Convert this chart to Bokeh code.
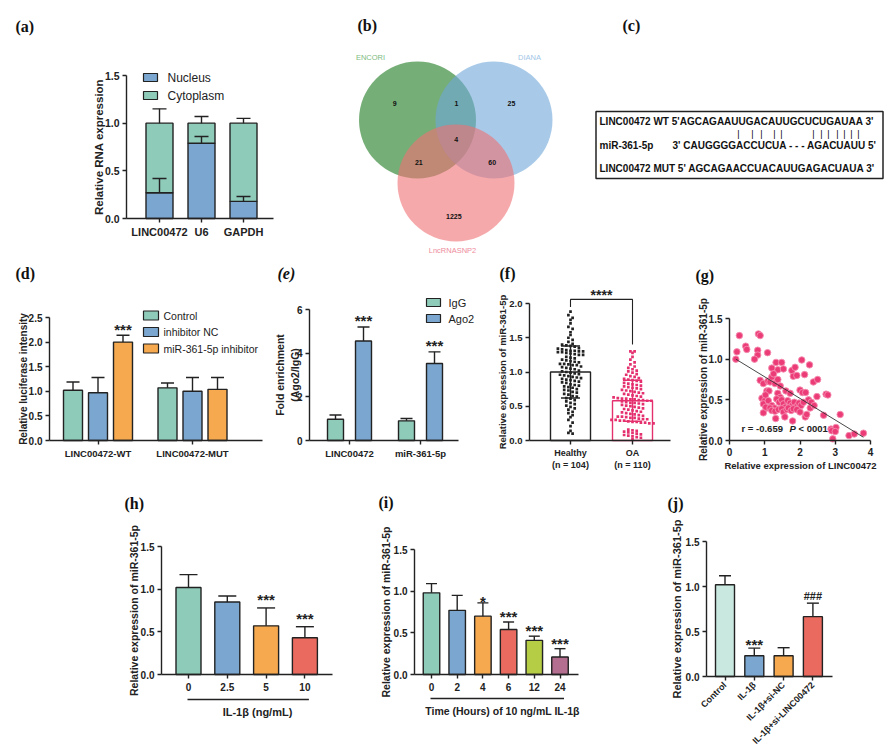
import numpy as np
from bokeh.plotting import figure
from bokeh.models import Range1d, FixedTicker, LinearAxis, NumeralTickFormatter
from bokeh.layouts import row, column
from bokeh.embed import file_html
from bokeh.resources import INLINE
from bokeh.core.properties import value

# ======================= DATA =======================
a_genes = ["LINC00472", "U6", "GAPDH"]
a_series = ["Nucleus", "Cytoplasm"]
a_nucleus = [0.27, 0.79, 0.18]
a_nucleus_err = [0.15, 0.07, 0.05]
a_cyto = [0.73, 0.21, 0.82]
a_cyto_err = [0.15, 0.07, 0.05]

venn_names = ["ENCORI", "DIANA", "LncRNASNP2"]
# ENCORI only, ENCORI&DIANA, DIANA only, all three, ENCORI&Lnc, DIANA&Lnc, Lnc only
venn_counts = ["9", "1", "25", "4", "21", "60", "1225"]

c_wt = "LINC00472 WT 5'AGCAGAAUUGACAUUGCUCUGAUAA 3'"
c_mir_name = "miR-361-5p"
c_mir = "3' CAUGGGGACCUCUA - - - AGACUAUU 5'"
c_mut = "LINC00472 MUT 5' AGCAGAACCUACAUUGAGACUAUA 3'"

d_groups = ["LINC00472-WT", "LINC00472-MUT"]
d_series = ["Control", "inhibitor NC", "miR-361-5p inhibitor"]
d_control = [1.02, 1.07]
d_control_err = [0.17, 0.10]
d_nc = [0.97, 1.00]
d_nc_err = [0.31, 0.28]
d_inh = [2.00, 1.04]
d_inh_err = [0.14, 0.24]
d_inh_sig = ["***", ""]

e_groups = ["LINC00472", "miR-361-5p"]
e_series = ["IgG", "Ago2"]
e_igg = [0.97, 0.90]
e_igg_err = [0.20, 0.11]
e_ago2 = [4.56, 3.53]
e_ago2_err = [0.64, 0.53]
e_ago2_sig = ["***", "***"]

f_groups = ["Healthy\n(n = 104)", "OA\n(n = 110)"]
f_mean = [1.00, 0.58]
f_sd = [0.38, 0.30]
f_healthy = [
    1.88, 1.83, 1.79, 1.76, 1.71, 1.66, 1.63, 1.58, 1.54, 1.50, 1.47, 1.44,
    1.41, 1.40, 1.39, 1.38, 1.37, 1.35, 1.34, 1.33, 1.32, 1.31, 1.31, 1.30,
    1.30, 1.29, 1.29, 1.28, 1.27, 1.26, 1.25, 1.25,
    1.22, 1.21, 1.20, 1.18, 1.17, 1.16, 1.15, 1.14, 1.12, 1.12, 1.11, 1.10,
    1.10, 1.08, 1.07, 1.06, 1.05, 1.04, 1.02, 1.01, 1.00, 0.99, 0.98, 0.97,
    0.96, 0.95, 0.94, 0.93, 0.92, 0.91, 0.90,
    0.89, 0.88, 0.87, 0.86, 0.85, 0.84, 0.82, 0.81, 0.80, 0.79, 0.78, 0.77,
    0.75, 0.74, 0.73, 0.71, 0.70, 0.68, 0.67, 0.65, 0.64, 0.62, 0.61,
    0.59, 0.57, 0.55, 0.53, 0.51, 0.49, 0.47, 0.45, 0.42, 0.40, 0.37, 0.34,
    0.30, 0.26, 0.21, 0.14, 0.11, 0.10]
f_oa = [
    1.30, 1.30, 1.28, 1.22, 1.18, 1.14, 1.11,
    1.08, 1.06, 1.04, 1.02, 1.01, 0.99,
    0.97, 0.96, 0.94, 0.93, 0.91, 0.90, 0.89, 0.88, 0.87, 0.86,
    0.84, 0.83, 0.82, 0.81, 0.80, 0.79, 0.78, 0.77, 0.76, 0.75, 0.74, 0.73,
    0.72, 0.71, 0.70, 0.69, 0.68, 0.67, 0.66, 0.65, 0.64, 0.63, 0.62, 0.61,
    0.61, 0.60, 0.60,
    0.59, 0.59, 0.58, 0.58, 0.57, 0.56, 0.55, 0.55, 0.54, 0.53, 0.52, 0.51,
    0.50, 0.49, 0.48, 0.47, 0.46, 0.45, 0.44, 0.43, 0.42, 0.41, 0.40, 0.39,
    0.38, 0.37, 0.36, 0.35, 0.35, 0.34, 0.33, 0.33, 0.32, 0.31, 0.31, 0.30,
    0.30, 0.29, 0.29, 0.28,
    0.27, 0.27, 0.26, 0.26, 0.25, 0.25,
    0.16, 0.15, 0.14, 0.13, 0.12, 0.11, 0.10, 0.09, 0.08, 0.07, 0.06, 0.05,
    0.04, 0.02]
f_sig = "****"

g_x = [0.28, 0.82, 0.87, 0.21, 0.46, 0.49, 0.18, 0.80, 0.80, 0.71, 1.08, 1.32,
       1.48, 1.37, 1.53, 1.20, 1.77, 1.86, 2.05, 1.81, 1.91, 2.27, 2.13, 0.87,
       0.96, 1.09, 1.15, 1.20, 1.29, 1.37, 2.38, 2.50, 1.06, 1.12, 0.92, 1.00,
       1.37, 1.44, 1.60, 1.72, 2.00, 2.07, 2.16, 2.24, 2.32, 2.48, 2.74, 2.79,
       0.96, 1.06, 1.10, 1.20, 1.27, 1.34, 1.41, 1.48, 1.53, 1.58, 1.65, 1.72,
       1.77, 1.84, 1.91, 1.97, 2.03, 0.96, 1.03, 1.15, 1.20, 1.29, 1.39, 1.48,
       1.53, 1.63, 1.67, 1.75, 1.81, 1.91, 2.00, 2.15, 2.19, 2.29, 1.31, 1.79,
       2.67, 3.14, 2.88, 2.98, 3.02, 2.90, 3.00, 2.93, 3.39, 3.54, 3.80, 1.25,
       1.44, 1.02, 2.10, 1.57, 2.40]
g_y = [1.29, 1.31, 1.29, 1.09, 1.16, 1.12, 1.00, 1.11, 1.05, 1.00, 1.08, 0.96,
       0.96, 0.87, 0.88, 0.89, 0.86, 0.90, 0.99, 0.79, 0.80, 0.93, 0.81, 0.74,
       0.70, 0.73, 0.72, 0.78, 0.70, 0.75, 0.72, 0.75, 0.61, 0.61, 0.52, 0.49,
       0.58, 0.53, 0.61, 0.58, 0.62, 0.59, 0.59, 0.50, 0.47, 0.54, 0.57, 0.56,
       0.45, 0.40, 0.49, 0.43, 0.40, 0.51, 0.47, 0.50, 0.45, 0.41, 0.49, 0.46,
       0.43, 0.47, 0.42, 0.46, 0.43, 0.34, 0.41, 0.40, 0.37, 0.36, 0.38, 0.39,
       0.35, 0.38, 0.40, 0.37, 0.39, 0.38, 0.35, 0.29, 0.32, 0.40, 0.27, 0.24,
       0.31, 0.32, 0.14, 0.14, 0.16, 0.12, 0.11, 0.02, 0.06, 0.08, 0.09, 0.82,
       0.67, 0.56, 0.47, 0.29, 0.43]
g_fit_x = [0.18, 3.80]
g_fit_y = [1.00, 0.04]
g_stat = ["r = -0.659", "P", "< 0001"]

h_doses = ["0", "2.5", "5", "10"]
h_vals = [1.02, 0.85, 0.57, 0.43]
h_errs = [0.15, 0.07, 0.21, 0.13]
h_sig = ["", "", "***", "***"]

i_hours = ["0", "2", "4", "6", "12", "24"]
i_vals = [0.98, 0.77, 0.70, 0.54, 0.41, 0.21]
i_errs = [0.11, 0.18, 0.16, 0.09, 0.05, 0.10]
i_sig = ["", "", "*", "***", "***", "***"]

j_groups = ["Control", "IL-1β", "IL-1β+si-NC", "IL-1β+si-LINC00472"]
j_vals = [1.02, 0.23, 0.23, 0.665]
j_errs = [0.10, 0.085, 0.09, 0.15]
j_sig = ["", "***", "", "###"]

Y_LABEL = "Relative expression of miR-361-5p"

# ======================= STYLE =======================
FONT = "Liberation Sans"
SERIF = "Liberation Serif"
INK = "#222222"
TEAL = "#8ECBB9"
BLUE = "#7BA6CF"
ORANGE = "#F6A94E"
RED = "#EA6A5F"
LIME = "#B5CC45"
MAUVE = "#B46E8F"
MINT = "#C9E8DF"
PINK = "#E5306F"
LW = 1.4


class Panel:
    """A figure whose frame fills its whole cell; px -> data through its own ranges."""

    def __init__(self, cell, ax_x, ax_y, x_at_ax, ppx, ppy):
        cx0, cy0, cx1, cy1 = cell
        self.ax_x, self.ax_y, self.xa, self.ppx, self.ppy = ax_x, ax_y, x_at_ax, ppx, ppy
        self.p = figure(frame_width=int(cx1 - cx0), frame_height=int(cy1 - cy0),
                        min_border_left=0, min_border_right=0,
                        min_border_top=0, min_border_bottom=0,
                        x_range=Range1d(self.X(cx0), self.X(cx1)),
                        y_range=Range1d(self.Y(cy1), self.Y(cy0)),
                        x_axis_location=None, y_axis_location=None,
                        output_backend="svg", toolbar_location=None)
        p = self.p
        p.outline_line_color = None
        for g in p.grid:
            g.visible = False
        p.background_fill_color = "white"
        p.border_fill_color = "white"

    def X(self, px):
        return self.xa + (px - self.ax_x) / self.ppx

    def Y(self, py):
        return (self.ax_y - py) / self.ppy

    def dx(self, n):
        return n / self.ppx

    def dy(self, n):
        return n / self.ppy


def free_panel(cell):
    return Panel(cell, 0, 0, 0, 1, -1)


def style_axis(ax, fs):
    ax.axis_line_width = LW
    ax.axis_line_color = INK
    ax.major_tick_line_width = LW
    ax.major_tick_line_color = INK
    ax.major_tick_out = 4
    ax.major_tick_in = 0
    ax.minor_tick_line_color = None
    ax.major_label_text_font = FONT
    ax.major_label_text_font_style = "bold"
    ax.major_label_text_color = INK
    ax.major_label_text_font_size = fs
    ax.major_label_standoff = 3


def add_axes(P, xticks, xlabels, xend_px, yticks, ytop, yfmt, tick_fs="10px",
             xtick_fs="10px", xfmt=None, xorient=None, xstandoff=3):
    xa = LinearAxis(fixed_location=0, ticker=FixedTicker(ticks=list(xticks)),
                    bounds=(P.xa, P.X(xend_px)))
    style_axis(xa, xtick_fs)
    xa.major_label_standoff = xstandoff
    if xlabels is not None:
        xa.major_label_overrides = {t: l for t, l in zip(xticks, xlabels)}
    if xfmt:
        xa.formatter = NumeralTickFormatter(format=xfmt)
    if xorient is not None:
        xa.major_label_orientation = xorient
    ya = LinearAxis(fixed_location=P.xa, ticker=FixedTicker(ticks=list(yticks)),
                    bounds=(0, ytop), formatter=NumeralTickFormatter(format=yfmt))
    style_axis(ya, tick_fs)
    P.p.add_layout(xa, "below")
    P.p.add_layout(ya, "left")


def txt(P, px, py, s, fs, style="bold", align="center", baseline="middle", angle=0.0,
        font=FONT, color=INK):
    P.p.text(x=[P.X(px)], y=[P.Y(py)], text=[s], angle=angle, text_font=value(font),
             text_font_size=value(fs), text_font_style=style, text_color=color,
             text_align=align, text_baseline=baseline)


def ylab(P, px, py, s, fs):
    txt(P, px, py, s, fs, angle=np.pi / 2)


def letter(P, s, left_px, cy_px, italic=False):
    txt(P, left_px, cy_px, s, "16px", style="bold italic" if italic else "bold",
        align="left", font=SERIF, color="#111111")


def errbars(P, xs, base, err, cap_px, color=INK, both=False):
    xs = np.asarray(xs, float)
    base = np.asarray(base, float)
    err = np.asarray(err, float)
    hw = P.dx(cap_px) / 2
    up = base + err
    lo = base - err if both else base
    P.p.segment(x0=xs, y0=lo, x1=xs, y1=up, line_color=color, line_width=LW)
    P.p.segment(x0=xs - hw, y0=up, x1=xs + hw, y1=up, line_color=color, line_width=LW)
    if both:
        P.p.segment(x0=xs - hw, y0=lo, x1=xs + hw, y1=lo, line_color=color, line_width=LW)


def sig(P, xs, tops, labels, gap_px, fs="15px"):
    xx, yy, tt = [], [], []
    for x, t, l in zip(xs, tops, labels):
        if l:
            xx.append(x)
            yy.append(t + P.dy(gap_px))
            tt.append(l)
    P.p.text(x=xx, y=yy, text=tt, text_font=value(FONT), text_font_size=value(fs),
             text_font_style="bold", text_color=INK, text_align="center",
             text_baseline="alphabetic")


def legend(P, labels, colors, sq_cx, first_cy, pitch, sq_w, sq_h, text_left, fs):
    cys = [first_cy + k * pitch for k in range(len(labels))]
    P.p.rect(x=[P.X(sq_cx)] * len(labels), y=[P.Y(c) for c in cys],
             width=sq_w, height=sq_h, width_units="screen", height_units="screen",
             fill_color=colors, line_color=INK, line_width=1.2)
    P.p.text(x=[P.X(text_left)] * len(labels), y=[P.Y(c) for c in cys], text=labels,
             text_font=value(FONT), text_font_size=value(fs), text_color=INK,
             text_align="left", text_baseline="middle")


def underline(P, x0, x1, py, s, cx_px, cy_px, fs):
    P.p.line(x=[x0 - P.dx(1), x1 + P.dx(4)], y=[P.Y(py)] * 2, line_color=INK, line_width=LW)
    txt(P, cx_px, cy_px, s, fs)


# ======================= (a) =======================
A = Panel((8, 8, 300, 258), 126, 218, -33 / 42, 42, 143 / 1.5)
xs = np.arange(len(a_genes))
nuc = np.array(a_nucleus)
cyt = np.array(a_cyto)
A.p.vbar(x=xs, bottom=0, top=nuc, width=A.dx(27), fill_color=BLUE, line_color=INK, line_width=LW)
A.p.vbar(x=xs, bottom=nuc, top=nuc + cyt, width=A.dx(27), fill_color=TEAL, line_color=INK, line_width=LW)
errbars(A, xs, nuc, a_nucleus_err, 14)
errbars(A, xs, nuc + cyt, a_cyto_err, 14)
add_axes(A, list(range(3)), a_genes, 273, [0, 0.5, 1.0, 1.5], 1.5, "0.0",
         tick_fs="10.5px", xtick_fs="11px")
ylab(A, 98, 146.5, "Relative RNA expression", "11.5px")
legend(A, a_series, [BLUE, TEAL], 150, 77, 18, 14, 8, 167, "12px")
letter(A, "(a)", 15, 26)

# ======================= (b) Venn =======================
B = free_panel((300, 8, 590, 258))
B.p.circle(x=[417, 493.5, 455.5], y=[119.5, 119.5, 182.5], radius=58.5,
           fill_color=["#1B781E", "#6EA7D9", "#F07073"], fill_alpha=0.6, line_color=None)
B.p.text(x=[394.3, 456, 511, 455.7, 418.3, 491.7, 453.3],
         y=[102.7, 102.7, 102.7, 139.3, 162.3, 162.3, 216],
         text=venn_counts, text_font=value(FONT), text_font_size=value("7px"),
         text_font_style="bold", text_color="#111111", text_align="center",
         text_baseline="middle")
B.p.text(x=[370, 529, 452], y=[57, 57, 250], text=venn_names,
         text_font=value(FONT), text_font_size=value("7.5px"),
         text_color=["#7DBB80", "#A2C6E6", "#EE8C9C"], text_align="center",
         text_baseline="middle")
letter(B, "(b)", 357, 25)

# ======================= (c) sequences =======================
C = free_panel((590, 8, 884, 258))
C.p.quad(left=[595.5], right=[882.5], top=[111], bottom=[178], fill_color=None,
         line_color=INK, line_width=1.5)
C.p.text(x=[599, 599, 672, 599], y=[121, 145, 145, 168],
         text=[c_wt, c_mir_name, c_mir, c_mut], text_font=value(FONT),
         text_font_size=value("10px"), text_font_style="bold", text_color="#111111",
         text_align="left", text_baseline="middle")
bar_x = [738, 752, 761, 774, 781, 813, 821, 828, 837, 844, 851, 858]
C.p.text(x=bar_x, y=[133] * len(bar_x), text=["|"] * len(bar_x), text_font=value(FONT),
         text_font_size=value("9px"), text_color="#000000", text_align="center",
         text_baseline="middle")
letter(C, "(c)", 622, 25)

# ======================= (d) =======================
D = Panel((8, 258, 266, 476), 49, 440, (49 - 97.5) / 94.5, 94.5, 123 / 2.5)
gx = np.arange(len(d_groups))
d_cols = [TEAL, BLUE, ORANGE]
for k, (vals, errs) in enumerate([(d_control, d_control_err), (d_nc, d_nc_err), (d_inh, d_inh_err)]):
    xk = gx + (k - 1) * D.dx(25)
    D.p.vbar(x=xk, top=vals, width=D.dx(19), fill_color=d_cols[k], line_color=INK, line_width=LW)
    errbars(D, xk, vals, errs, 13)
    if k == 2:
        sig(D, xk, np.array(vals) + np.array(errs), d_inh_sig, 6)
add_axes(D, list(range(2)), d_groups, 262, [0, 0.5, 1.0, 1.5, 2.0, 2.5], 2.5, "0.0",
         tick_fs="10px", xtick_fs="9.5px")
ylab(D, 23, 378.5, "Relative luciferase intensity", "10px")
legend(D, d_series, d_cols, 150.5, 315, 16.5, 15, 9, 163, "10.5px")
letter(D, "(d)", 15, 273)

# ======================= (e) =======================
E = Panel((266, 258, 490, 476), 309, 440, (309 - 349) / 71, 71, 131 / 6)
ex = np.arange(len(e_groups))
for k, (vals, errs, col) in enumerate([(e_igg, e_igg_err, TEAL), (e_ago2, e_ago2_err, BLUE)]):
    xk = ex + (k - 0.5) * E.dx(28)
    E.p.vbar(x=xk, top=vals, width=E.dx(16), fill_color=col, line_color=INK, line_width=LW)
    errbars(E, xk, vals, errs, 12)
    if k == 1:
        sig(E, xk, np.array(vals) + np.array(errs), e_ago2_sig, 6)
add_axes(E, list(range(2)), e_groups, 458, [0, 2, 4, 6], 6, "0",
         tick_fs="10px", xtick_fs="9.5px")
ylab(E, 279, 374.5, "Fold enrichment", "10.5px")
ylab(E, 294, 374.5, "(Ago2/IgG)", "10.5px")
legend(E, e_series, [TEAL, BLUE], 433, 302, 16, 14, 8, 448, "11px")
letter(E, "(e)", 277, 273, italic=True)

# ======================= (f) =======================
F = Panel((490, 258, 690, 476), 529, 440, (529 - 570) / 62, 62, 68.5)


def swarm(vals, bin_w, step):
    v = np.asarray(vals, float)
    bins = np.round(v / bin_w).astype(int)
    offs = np.zeros(len(v))
    for b in np.unique(bins):
        idx = np.where(bins == b)[0]
        n = len(idx)
        offs[idx] = (np.arange(n) - (n - 1) / 2) * step
    return offs


F.p.vbar(x=[0, 1], top=f_mean, width=F.dx(40), fill_color=None,
         line_color=[INK, PINK], line_width=LW)
F.p.scatter(x=0 + swarm(f_healthy, 0.055, F.dx(4.2)), y=f_healthy, marker="square", size=2.7,
            fill_color=INK, line_color=None)
F.p.scatter(x=1 + swarm(f_oa, 0.055, F.dx(4.2)), y=f_oa, marker="square", size=2.7,
            fill_color=PINK, line_color=None)
errbars(F, [0], [f_mean[0]], [f_sd[0]], 19, color=INK, both=True)
errbars(F, [1], [f_mean[1]], [f_sd[1]], 19, color=PINK, both=True)
br_top = max(f_healthy) + 0.18
F.p.line(x=[0, 0, 1, 1], y=[max(f_healthy) + 0.07, br_top, br_top, max(f_oa) + 0.10],
         line_color=INK, line_width=1.1)
sig(F, [0.5], [br_top], [f_sig], 4.5, fs="14px")
add_axes(F, list(range(2)), f_groups, 670, [0, 0.5, 1.0, 1.5, 2.0], 2.0, "0.0",
         tick_fs="9.5px", xtick_fs="9px")
ylab(F, 502, 371.5, Y_LABEL, "9.5px")
letter(F, "(f)", 499, 273)

# ======================= (g) =======================
G = Panel((690, 258, 884, 476), 729, 440, 0, 35.25, 122 / 1.5)
G.p.scatter(x=g_x, y=g_y, marker="circle", size=6.5, fill_color="#EC3C77",
            line_color="#F48DB0", line_width=0.9)
G.p.line(x=g_fit_x, y=g_fit_y, line_color="#333333", line_width=0.9)
add_axes(G, [0, 1, 2, 3, 4], None, 870, [0, 0.5, 1.0, 1.5], 1.5, "0.0",
         tick_fs="10px", xtick_fs="10px", xfmt="0")
ylab(G, 703, 379, Y_LABEL, "10px")
txt(G, 800, 465, "Relative expression of LINC00472", "9.5px")
for s, lx, st in zip(g_stat, [741, 789, 798], ["bold", "bold italic", "bold"]):
    txt(G, lx, 428, s, "9.5px", style=st, align="left")
letter(G, "(g)", 695, 275)

# ======================= (h) =======================
H = Panel((8, 476, 370, 745), 161, 674, -27 / 38.8, 38.8, 128 / 1.5)
hx = np.arange(len(h_doses))
H.p.vbar(x=hx, top=h_vals, width=H.dx(25), fill_color=[TEAL, BLUE, ORANGE, RED],
         line_color=INK, line_width=LW)
errbars(H, hx, h_vals, h_errs, 18)
sig(H, hx, np.array(h_vals) + np.array(h_errs), h_sig, 8)
add_axes(H, list(range(4)), h_doses, 332, [0, 0.5, 1.0, 1.5], 1.5, "0.0",
         tick_fs="10px", xtick_fs="10px", xstandoff=4)
ylab(H, 133.5, 610, Y_LABEL, "10.5px")
underline(H, hx[0], hx[-1], 699, "IL-1β (ng/mL)", 257, 711, "11px")
letter(H, "(h)", 124, 503)

# ======================= (i) =======================
I = Panel((370, 476, 655, 745), 414, 674, -17 / 25.7, 25.7, 125 / 1.5)
ix = np.arange(len(i_hours))
I.p.vbar(x=ix, top=i_vals, width=I.dx(16.5), fill_color=[TEAL, BLUE, ORANGE, RED, LIME, MAUVE],
         line_color=INK, line_width=LW)
errbars(I, ix, i_vals, i_errs, 11)
itop = np.array(i_vals) + np.array(i_errs)
sig(I, ix[:3], itop[:3], i_sig[:3], 1)
sig(I, ix[3:], itop[3:], i_sig[3:], 5.5)
add_axes(I, list(range(6)), i_hours, 578, [0, 0.5, 1.0, 1.5], 1.5, "0.0",
         tick_fs="10px", xtick_fs="10px", xstandoff=4)
ylab(I, 385, 611.5, Y_LABEL, "10.5px")
underline(I, ix[0], ix[-1], 698, "Time (Hours) of 10 ng/mL IL-1β", 502, 710, "10.5px")
letter(I, "(i)", 378, 502)

# ======================= (j) =======================
J = Panel((655, 476, 884, 752), 706, 676, -18.5 / 29.3, 29.3, 135 / 1.5)
jx = np.arange(len(j_groups))
J.p.vbar(x=jx, top=j_vals, width=J.dx(19), fill_color=[MINT, BLUE, ORANGE, RED],
         line_color=INK, line_width=LW)
errbars(J, jx, j_vals, j_errs, 12)
jt = np.array(j_vals) + np.array(j_errs)
sig(J, jx[:2], jt[:2], j_sig[:2], 4)
sig(J, jx[2:], jt[2:], j_sig[2:], 7, fs="11px")
add_axes(J, list(range(4)), j_groups, 832, [0, 0.5, 1.0, 1.5], 1.5, "0.0",
         tick_fs="10px", xtick_fs="9px", xorient=np.pi / 4)
ylab(J, 676, 608.5, Y_LABEL, "11px")
letter(J, "(j)", 667, 503)

layout = column(row(A.p, B.p, C.p), row(D.p, E.p, F.p, G.p), row(H.p, I.p, J.p),
                margin=(8, 0, 0, 8))
open("out.html", "w").write(file_html(layout, INLINE))
